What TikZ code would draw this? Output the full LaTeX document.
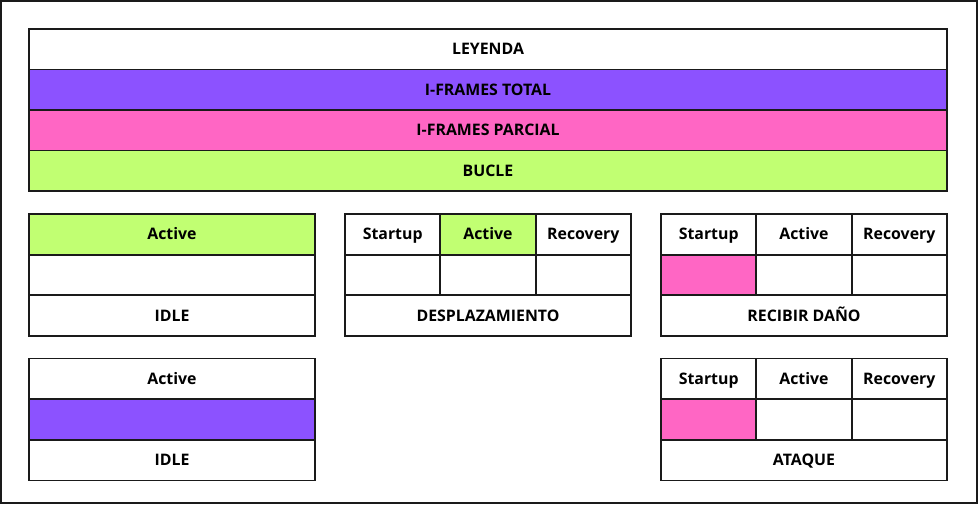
\documentclass[tikz,border=0pt]{standalone}
\usepackage{fontspec}
\setmainfont{Open Sans}
\usepackage{tikz}
\definecolor{total}{HTML}{8C52FF}
\definecolor{parcial}{HTML}{FF66C4}
\definecolor{bucle}{HTML}{C1FF72}
\definecolor{frame}{HTML}{1A1A1A}

\begin{document}
\begin{tikzpicture}[x=0.75pt,y=-0.75pt,
  cell/.style={draw=frame,line width=1.3pt,fill=white,inner sep=0pt,
    minimum height=30.5pt,text height=0.84em,text depth=0pt,
    font=\fontsize{11.9}{14}\selectfont\bfseries},
  legrow/.style={cell,minimum width=688.5pt,minimum height=30.4pt},
  wide/.style={cell,minimum width=214.5pt},
  third/.style={cell,minimum width=71.5pt}]
\useasboundingbox (0,0) rectangle (978,504);
\draw[frame,line width=1.7pt] (1,1) rectangle (977,503);
% legend
\node[legrow] (leyenda) at (488,49.25) {LEYENDA};
\node[legrow,fill=total] (itotal) at (488,89.75) {I-FRAMES TOTAL};
\node[legrow,fill=parcial] (iparcial) at (488,130.25) {I-FRAMES PARCIAL};
\node[legrow,fill=bucle] (bucle) at (488,170.75) {BUCLE};
% idle (bucle)
\node[wide,fill=bucle] (idle1h) at (172,234.3) {Active};
\node[wide] (idle1b) at (172,275) {};
\node[wide] (idle1n) at (172,315.7) {IDLE};
% desplazamiento
\node[third] (despS) at (392.7,234.3) {Startup};
\node[third,fill=bucle] (despA) at (488,234.3) {Active};
\node[third] (despR) at (583.3,234.3) {Recovery};
\node[third] (despSb) at (392.7,275) {};
\node[third] (despAb) at (488,275) {};
\node[third] (despRb) at (583.3,275) {};
\node[wide] (despn) at (488,315.7) {DESPLAZAMIENTO};
% recibir dano
\node[third] (recS) at (708.7,234.3) {Startup};
\node[third] (recA) at (804,234.3) {Active};
\node[third] (recR) at (899.3,234.3) {Recovery};
\node[third,fill=parcial] (recSb) at (708.7,275) {};
\node[third] (recAb) at (804,275) {};
\node[third] (recRb) at (899.3,275) {};
\node[wide] (recn) at (804,315.7) {RECIBIR DAÑO};
% idle (total)
\node[wide] (idle2h) at (172,378.8) {Active};
\node[wide,fill=total] (idle2b) at (172,419.5) {};
\node[wide] (idle2n) at (172,460.2) {IDLE};
% ataque
\node[third] (ataS) at (708.7,378.8) {Startup};
\node[third] (ataA) at (804,378.8) {Active};
\node[third] (ataR) at (899.3,378.8) {Recovery};
\node[third,fill=parcial] (ataSb) at (708.7,419.5) {};
\node[third] (ataAb) at (804,419.5) {};
\node[third] (ataRb) at (899.3,419.5) {};
\node[wide] (atan) at (804,460.2) {ATAQUE};
\end{tikzpicture}
\end{document}
